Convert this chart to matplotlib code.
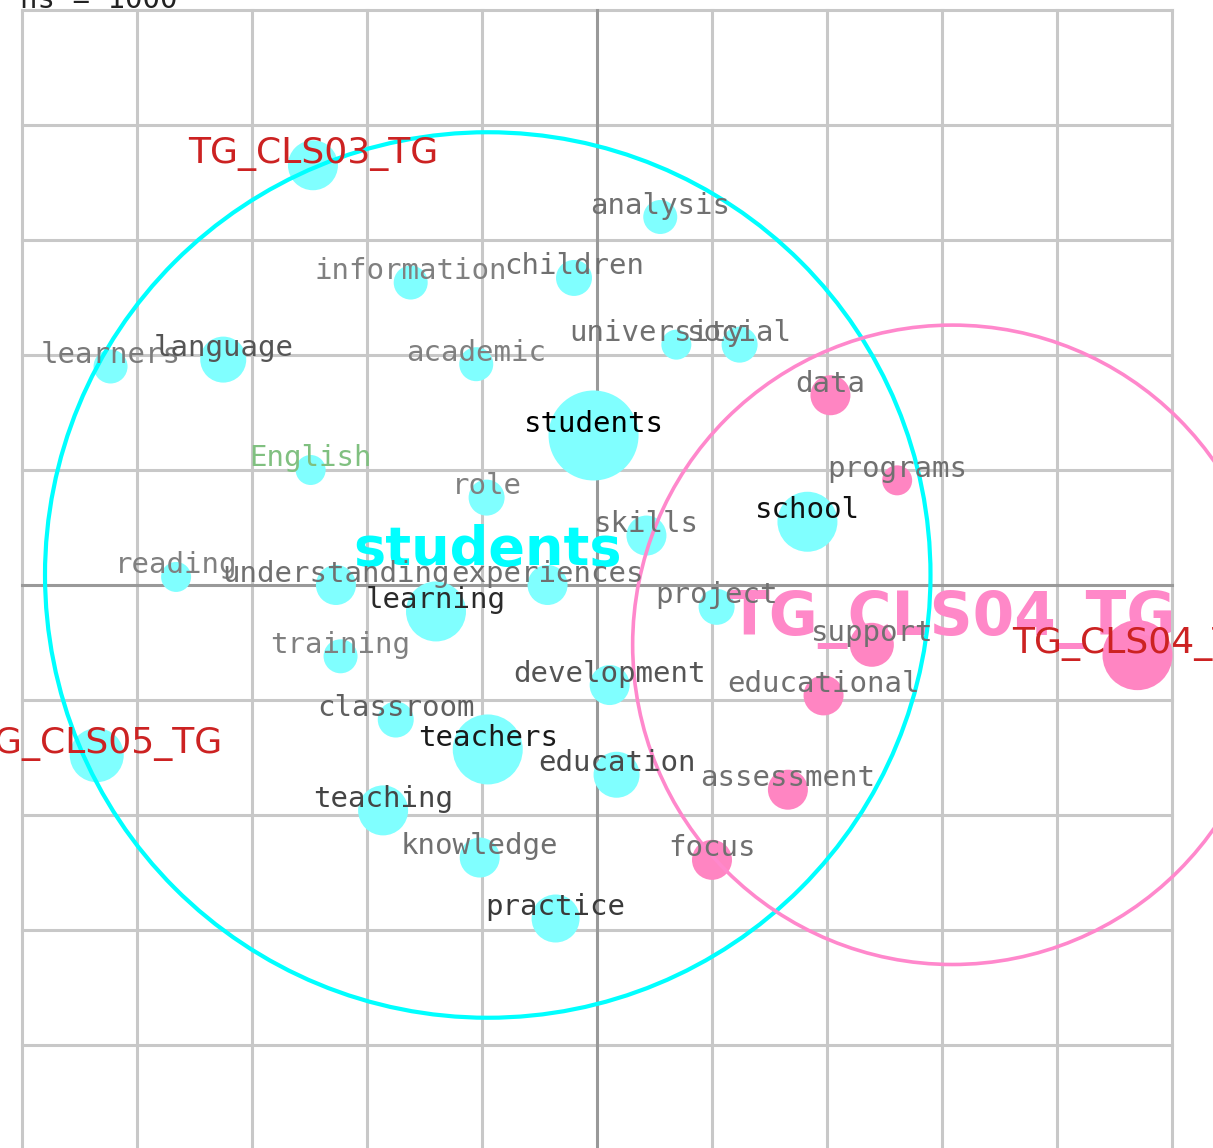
import matplotlib
matplotlib.use('Agg')
import matplotlib.pyplot as plt
from matplotlib.patches import Circle

# term map: one grid unit = 115 px, origin at the axis crossing
cyan_terms = ['TG_CLS03_TG', 'analysis', 'information', 'children', 'university', 'social',
              'learners', 'language', 'academic', 'students', 'English', 'role', 'skills',
              'school', 'reading', 'understanding', 'experiences', 'learning', 'project',
              'training', 'development', 'classroom', 'teachers', 'TG_CLS05_TG', 'education',
              'teaching', 'knowledge', 'practice']
cyan_x = [-2.47, 0.55, -1.62, -0.20, 0.69, 1.24, -4.23, -3.25, -1.05, -0.03, -2.49, -0.96, 0.43,
          1.83, -3.66, -2.27, -0.43, -1.40, 1.04, -2.23, 0.11, -1.75, -0.95, -4.35, 0.17,
          -1.86, -1.02, -0.36]
cyan_y = [3.65, 3.20, 2.63, 2.67, 2.09, 2.09, 1.90, 1.96, 1.92, 1.30, 1.00, 0.76, 0.43,
          0.55, 0.07, 0.00, 0.00, -0.23, -0.19, -0.62, -0.87, -1.17, -1.43, -1.48, -1.65,
          -1.96, -2.37, -2.90]
cyan_w = [25, 17, 17, 18, 15, 18, 17, 23, 17, 45, 15, 18, 20, 30, 15, 20, 20, 30, 18, 17, 20,
          18, 35, 27, 23, 25, 20, 24]

pink_terms = ['data', 'programs', 'support', 'educational', 'assessment', 'focus', 'TG_CLS04_TG']
pink_x = [2.03, 2.61, 2.39, 1.97, 1.66, 1.00, 4.70]
pink_y = [1.65, 0.91, -0.52, -0.96, -1.78, -2.39, -0.61]
pink_w = [20, 15, 22, 20, 20, 20, 35]

clusters = ['students', 'TG_CLS04_TG']
cluster_x = [-0.95, 3.09]
cluster_y = [0.087, -0.52]
cluster_r = [3.85, 2.78]

label_color = {'students': '#000000', 'school': '#111111', 'teachers': '#1a1a1a',
               'learning': '#2a2a2a', 'teaching': '#444444', 'practice': '#3a3a3a',
               'education': '#4a4a4a', 'language': '#555555', 'development': '#555555',
               'classroom': '#606060', 'English': '#80c080', 'role': '#808080',
               'reading': '#808080', 'training': '#808080', 'academic': '#808080',
               'information': '#808080', 'learners': '#7a7a7a'}
label_dx = {'university': -0.17}

U = 115.0
fig = plt.figure(figsize=(12.13, 11.48), dpi=100)
ax = fig.add_axes([0, 0, 1, 1])
ax.set_xlim(-597 / U, 616 / U)
ax.set_ylim(-563 / U, 585 / U)
ax.axis('off')

# grid
for g in range(-5, 6):
    if g == 0:
        continue
    ax.plot([g, g], [-5, 5], color='#c8c8c8', lw=2.2, zorder=1)
    ax.plot([-5, 5], [g, g], color='#c8c8c8', lw=2.2, zorder=1)
ax.plot([0, 0], [-5, 5], color='#999999', lw=2.2, zorder=1.5)
ax.plot([-5, 5], [0, 0], color='#999999', lw=2.2, zorder=1.5)

# bubbles
ax.scatter(cyan_x, cyan_y, s=[(1.44 * w) ** 2 for w in cyan_w], color='#80ffff',
           linewidths=0, zorder=2)
ax.scatter(pink_x, pink_y, s=[(1.44 * w) ** 2 for w in pink_w], color='#ff85c2',
           linewidths=0, zorder=2)

# cluster circles and titles
for name, cx, cy, r, col, lw, fs in zip(clusters, cluster_x, cluster_y, cluster_r,
                                         ['#00ffff', '#ff88cc'], [3.0, 2.6], [39, 43]):
    ax.add_patch(Circle((cx, cy), r, fill=False, edgecolor=col, lw=lw, zorder=4))
    ax.text(cx, cy + 0.22, name, color='#00ffff' if col == '#00ffff' else '#ff88c8',
            fontsize=fs, fontweight='bold', family='DejaVu Sans', ha='center',
            va='center', zorder=3)

# term labels
for terms, xs, ys in [(cyan_terms, cyan_x, cyan_y), (pink_terms, pink_x, pink_y)]:
    for t, x, y in zip(terms, xs, ys):
        if t.startswith('TG_'):
            ax.text(x, y + 0.1, t, color='#cc2222', fontsize=26, family='DejaVu Sans',
                    ha='center', va='center', zorder=5)
        else:
            ax.text(x + label_dx.get(t, 0), y + 0.1, t, color=label_color.get(t, '#707070'),
                    fontsize=21, family='DejaVu Sans Mono', ha='center', va='center',
                    zorder=5)

ax.text(20 / U - 597 / U, 585 / U, 'ns = 1000', color='#222222', fontsize=21,
        family='DejaVu Sans Mono', ha='left', va='center', zorder=5)

fig.savefig('out.png', dpi=100)
